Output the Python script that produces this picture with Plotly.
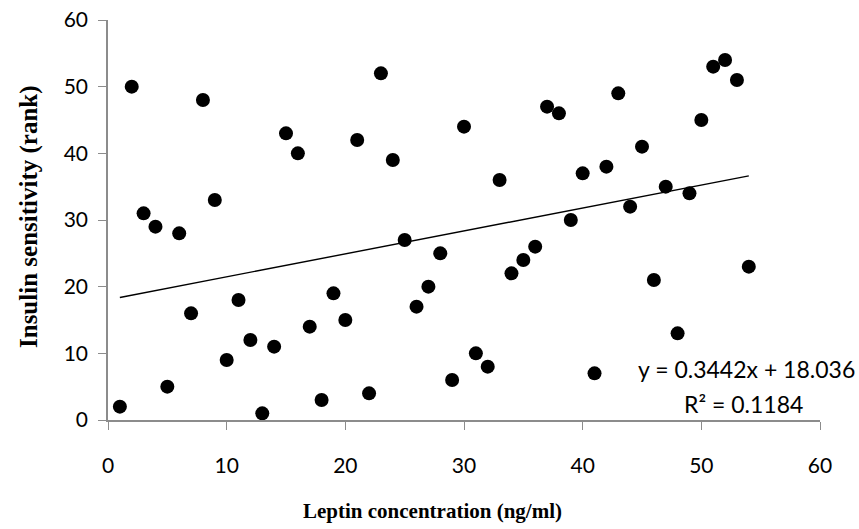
import plotly.graph_objects as go

leptin_rank = list(range(1, 55))
insulin_rank = [2, 50, 31, 29, 5, 28, 16, 48, 33, 9, 18, 12, 1, 11, 43, 40, 14, 3, 19, 15,
                42, 4, 52, 39, 27, 17, 20, 25, 6, 44, 10, 8, 36, 22, 24, 26, 47, 46, 30, 37,
                7, 38, 49, 32, 41, 21, 35, 13, 34, 45, 53, 54, 51, 23]
slope = 0.3442
intercept = 18.036
r2 = 0.1184
x_ticks = [0, 10, 20, 30, 40, 50, 60]
y_ticks = [0, 10, 20, 30, 40, 50, 60]

trend_x = [min(leptin_rank), max(leptin_rank)]
trend_y = [slope * v + intercept for v in trend_x]

fig = go.Figure()
fig.add_trace(go.Scatter(x=trend_x, y=trend_y, mode="lines",
                         line=dict(color="black", width=1.4), showlegend=False))
fig.add_trace(go.Scatter(x=leptin_rank, y=insulin_rank, mode="markers",
                         marker=dict(color="black", size=14), showlegend=False))

tick_font = dict(family="Lato, Open Sans, sans-serif", size=21, color="black")
eq_font = dict(family="Lato, Open Sans, sans-serif", size=23, color="black")
title_font = "Liberation Serif, Times New Roman, serif"
axis_common = dict(showgrid=False, zeroline=False, showline=True, linecolor="#8c8c8c",
                   linewidth=1.5, ticks="outside", ticklen=8, tickcolor="#8c8c8c",
                   tickfont=tick_font, range=[0, 60], ticklabeloverflow="allow",
                   automargin=False)
fig.update_xaxes(**axis_common, tickvals=x_ticks, ticklabelstandoff=18)
fig.update_yaxes(**axis_common, tickvals=y_ticks, ticklabelstandoff=6)

fig.add_annotation(x=0.5, y=0, xref="paper", yref="paper", xanchor="center", yanchor="middle",
                   text="<b>Leptin concentration (ng/ml)</b>", showarrow=False,
                   xshift=-32, yshift=-91,
                   font=dict(family=title_font, size=21, color="black"))
fig.add_annotation(x=0, y=0.5, xref="paper", yref="paper", xanchor="center", yanchor="middle",
                   text="<b>Insulin sensitivity (rank)</b>", showarrow=False, textangle=-90,
                   xshift=-79, yshift=3,
                   font=dict(family=title_font, size=25, color="black"))

fig.add_annotation(x=1, y=0, xref="paper", yref="paper", xanchor="right", yanchor="middle",
                   text=f"y = {slope}x + {intercept}", showarrow=False, xshift=37, yshift=51,
                   font=eq_font)
fig.add_annotation(x=1, y=0, xref="paper", yref="paper", xanchor="right", yanchor="middle",
                   text=f"R² = {r2}", showarrow=False, xshift=-15, yshift=16,
                   font=eq_font)

fig.update_layout(width=859, height=529, margin=dict(l=107.5, r=39, t=20, b=109),
                  plot_bgcolor="white", paper_bgcolor="white")
fig.write_html("out.html", config={"displayModeBar": False},
               post_script="document.body.style.margin='0';document.body.style.overflow='hidden';")
